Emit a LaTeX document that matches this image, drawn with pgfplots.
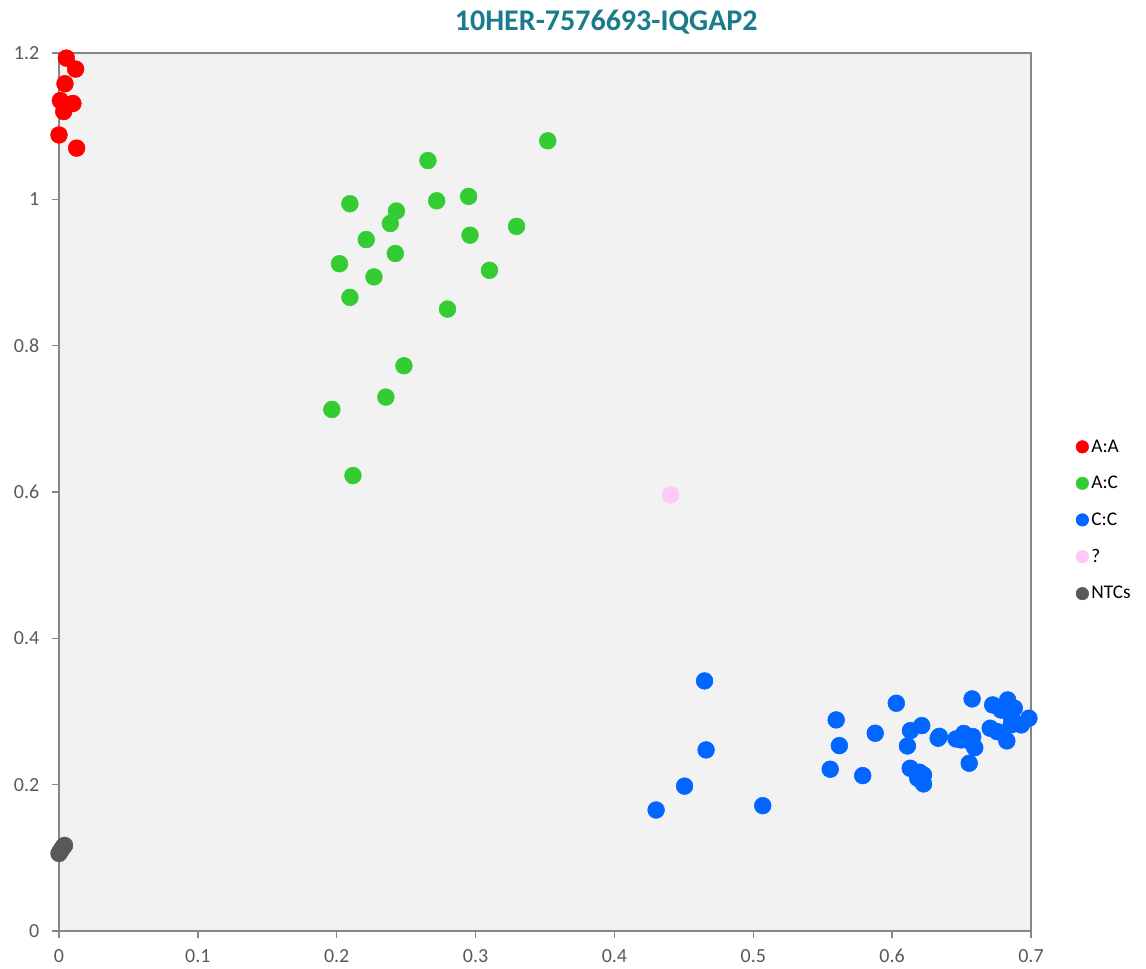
\documentclass[border=0pt]{standalone}
\usepackage{pgfplots}
\pgfplotsset{compat=1.18}
\usepackage{fontspec}
\setmainfont{Carlito}
\definecolor{bgc}{HTML}{F2F2F2}
\definecolor{axc}{HTML}{868686}
\definecolor{txt}{HTML}{595959}
\definecolor{ttl}{HTML}{1B7A8C}
\definecolor{cAA}{HTML}{FF0000}
\definecolor{cAC}{HTML}{33CC33}
\definecolor{cCC}{HTML}{0066FF}
\definecolor{cQ}{HTML}{FFC8F8}
\definecolor{cN}{HTML}{595959}
\begin{document}
\begin{tikzpicture}
\begin{axis}[
  scale only axis,
  width=729pt, height=658.5pt,
  xmin=0, xmax=0.7, ymin=0, ymax=1.2,
  xtick={0,0.1,...,0.7}, ytick={0,0.2,...,1.2},
  axis background/.style={fill=bgc},
  axis line style={axc, line width=1.1pt},
  tick align=outside, major tick length=5.25pt,
  tick style={axc, line width=1pt},
  xtick pos=bottom, ytick pos=left,
  ticklabel style={font=\fontsize{15}{17}\selectfont, text=txt},
  /pgf/number format/assume math mode=true,
  xticklabel style={yshift=-5pt},
  yticklabel style={xshift=-6pt},
  clip=false,
  title={\bfseries 10HER-7576693-IQGAP2},
  title style={at={(0.563,1.026)}, anchor=center, font=\fontsize{22.5}{26}\selectfont, text=ttl},
  legend style={at={(1.042,0.566)}, anchor=north west, draw=none, fill=none,
    font=\fontsize{14.5}{16}\selectfont, text=black, row sep=12.5pt},
  legend cell align=left,
  legend image post style={mark size=4.7pt},
]
\addplot[only marks, mark=*, mark size=6.3pt, mark options={draw=cAA, fill=cAA}] table {
x y
0.0053 1.193
0.012 1.178
0.0043 1.158
0.001 1.135
0.010 1.131
0.0034 1.120
0.0 1.088
0.0127 1.070
};
\addlegendentry{A:A}
\addplot[only marks, mark=*, mark size=6.3pt, mark options={draw=cAC, fill=cAC}] table {
x y
0.352 1.080
0.2657 1.053
0.2095 0.994
0.272 0.998
0.295 1.004
0.243 0.984
0.2386 0.967
0.3295 0.963
0.296 0.951
0.2213 0.945
0.2422 0.926
0.202 0.912
0.310 0.903
0.2268 0.894
0.2095 0.866
0.2798 0.850
0.2484 0.7725
0.2354 0.7297
0.1965 0.7128
0.2117 0.6225
};
\addlegendentry{A:C}
\addplot[only marks, mark=*, mark size=6.3pt, mark options={draw=cCC, fill=cCC}] table {
x y
0.4649 0.3418
0.466 0.2475
0.4505 0.198
0.430 0.1654
0.5068 0.1713
0.603 0.3113
0.5597 0.2885
0.562 0.2534
0.5878 0.2703
0.5554 0.2211
0.5788 0.2124
0.6576 0.3172
0.6132 0.2739
0.6213 0.2807
0.611 0.2529
0.6331 0.2635
0.6340 0.2660
0.646 0.2625
0.6496 0.2612
0.6516 0.270
0.6535 0.2640
0.6570 0.2580
0.658 0.2657
0.6595 0.2506
0.6555 0.2293
0.613 0.2224
0.6197 0.217
0.6226 0.2133
0.6184 0.2088
0.6226 0.201
0.6724 0.309
0.6832 0.3158
0.6785 0.302
0.688 0.3045
0.6857 0.293
0.6985 0.2908
0.693 0.2817
0.6857 0.2817
0.6706 0.2771
0.6756 0.2725
0.6826 0.2598
};
\addlegendentry{C:C}
\addplot[only marks, mark=*, mark size=6.3pt, mark options={draw=cQ, fill=cQ}] table {
x y
0.4404 0.596
};
\addlegendentry{?}
\addplot[only marks, mark=*, mark size=6.3pt, mark options={draw=cN, fill=cN}] table {
x y
0.0 0.106
0.001 0.109
0.002 0.112
0.003 0.115
0.004 0.117
};
\addlegendentry{NTCs}
\end{axis}
\pgfresetboundingbox
\path[use as bounding box] ([xshift=-44.25pt, yshift=-27.75pt]current axis.south west) rectangle ([xshift=86.25pt, yshift=39.75pt]current axis.north east);
\end{tikzpicture}
\end{document}
